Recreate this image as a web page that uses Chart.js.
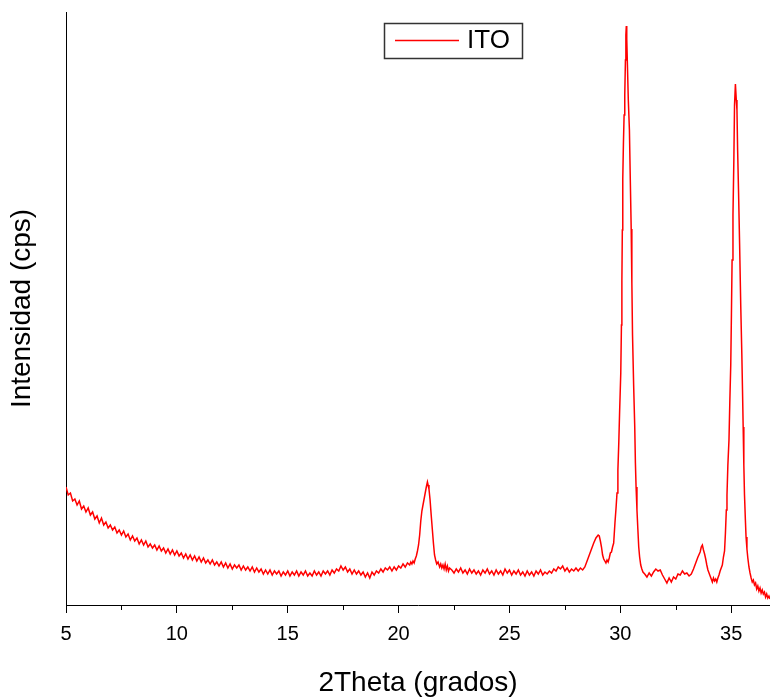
<!DOCTYPE html>
<html lang="es">
<head>
    <meta charset="UTF-8" />
    <title>ITO - difractograma</title>
    <script src="https://cdn.jsdelivr.net/npm/chart.js@4.4.0/dist/chart.umd.min.js"></script>
    <style>
        body { margin: 0; background: white; }
        canvas { display: block; }
    </style>
</head>
<body>
    <canvas id="xrd" width="770" height="700"></canvas>

    <script>
        // datos: [2theta, intensidad (unidades arbitrarias)]
        var scanStart = [
            [5.0,118],[5.1,110],[5.2,112],[5.3,104],[5.4,106],[5.5,100],[5.6,104],[5.7,96],[5.8,99],[5.9,93],
            [6.0,97],[6.1,90],[6.2,93],[6.3,86],[6.4,89],[6.5,82],[6.6,87],[6.7,80],[6.8,83],[6.9,77],
            [7.0,80],[7.1,75],[7.2,78],[7.3,72],[7.4,75],[7.5,70],[7.6,74],[7.7,68],[7.8,71],[7.9,65],
            [8.0,69],[8.1,64],[8.2,67],[8.3,61],[8.4,65],[8.5,60],[8.6,64],[8.7,58],[8.8,61],[8.9,57],
            [9.0,60],[9.1,55],[9.2,59],[9.3,54],[9.4,57],[9.5,52],[9.6,56],[9.7,51],[9.8,55],[9.9,50],
            [10.0,54],[10.1,49],[10.2,52],[10.3,47],[10.4,51],[10.5,46],[10.6,50],[10.7,45],[10.8,49],[10.9,44],
            [11.0,48],[11.1,43],[11.2,47],[11.3,42],[11.4,45],[11.5,41],[11.6,45],[11.7,40],[11.8,43],[11.9,39],
            [12.0,43],[12.1,38],[12.2,42],[12.3,37],[12.4,41],[12.5,36],[12.6,40],[12.7,37],[12.8,40],[12.9,35],
            [13.0,39],[13.1,35],[13.2,38],[13.3,34],[13.4,38],[13.5,33],[13.6,37],[13.7,33],[13.8,36],[13.9,31],
            [14.0,35],[14.1,31],[14.2,35],[14.3,30],[14.4,34],[14.5,31],[14.6,34],[14.7,29],[14.8,33],[14.9,30],
            [15.0,34],[15.1,29],[15.2,33],[15.3,30],[15.4,34],[15.5,29],[15.6,33],[15.7,30],[15.8,34],[15.9,29],
            [16.0,32],[16.1,29],[16.2,34],[16.3,30],[16.4,33],[16.5,29],[16.6,34],[16.7,31],[16.8,34],[16.9,30],
            [17.0,35],[17.1,32],[17.2,36],[17.3,34],[17.4,39],[17.5,35],[17.6,38],[17.7,33],[17.8,36],[17.9,31],
            [18.0,35],[18.1,31],[18.2,34],[18.3,30],[18.4,33],[18.5,28],[18.6,32],[18.7,27],[18.8,33],[18.9,30],
            [19.0,34],[19.1,32],[19.2,36],[19.3,33],[19.4,37],[19.5,35],[19.6,38],[19.7,34],[19.8,38],[19.9,35],
            [20.0,39],[20.1,37],[20.2,41],[20.3,38],[20.4,42],[20.5,40]
        ];
        var peak211 = [
            [20.55,43],[20.6,41],[20.65,44],[20.7,42],[20.75,46],[20.8,49],[20.85,54],[20.9,60],[20.95,70],
            [21.0,84],[21.05,94],[21.1,100],[21.15,106],[21.2,112],[21.25,118],[21.3,123],[21.33,120],[21.37,116],
            [21.42,105],[21.47,90],[21.52,76],[21.57,62],[21.62,50],[21.67,45],[21.72,41],[21.78,43],[21.85,38],
            [21.9,41],[21.95,37],[22.0,40],[22.05,36],[22.1,41],[22.15,35],[22.2,39],[22.25,34],[22.3,37]
        ];
        var midRange = [
            [22.4,35],[22.5,32],[22.6,36],[22.7,33],[22.8,37],[22.9,32],[23.0,35],[23.1,31],[23.2,36],[23.3,32],
            [23.4,35],[23.5,31],[23.6,34],[23.7,30],[23.8,35],[23.9,32],[24.0,36],[24.1,31],[24.2,34],[24.3,30],
            [24.4,35],[24.5,31],[24.6,34],[24.7,30],[24.8,36],[24.9,32],[25.0,35],[25.1,30],[25.2,34],[25.3,31],
            [25.4,35],[25.5,30],[25.6,33],[25.7,29],[25.8,34],[25.9,30],[26.0,33],[26.1,29],[26.2,34],[26.3,31],
            [26.4,35],[26.5,30],[26.6,33],[26.7,31],[26.8,34],[26.9,32],[27.0,36],[27.1,34],[27.2,38],[27.3,36],
            [27.4,39],[27.5,34],[27.6,37],[27.7,33],[27.8,36],[27.9,34],[28.0,37],[28.1,34],[28.2,37],[28.3,35],
            [28.4,38],[28.5,44],[28.6,50],[28.7,56],[28.8,62],[28.9,67],[29.0,70],[29.05,69],[29.1,64],[29.15,58],
            [29.2,50],[29.25,46],[29.3,44],[29.35,42],[29.4,45],[29.45,43],[29.5,47],[29.55,52]
        ];
        var peak222 = [
            [29.6,53],[29.65,58],[29.7,62],[29.76,83],[29.81,98],[29.85,112],[29.89,135],[29.93,162],[29.97,195],
            [30.02,232],[30.05,280],[30.07,324],[30.09,375],[30.11,426],[30.14,462],[30.17,490],[30.2,510],
            [30.23,545],[30.25,570],[30.27,579],[30.29,566],[30.32,540],[30.36,505],[30.41,475],[30.45,425],
            [30.49,376],[30.52,322],[30.55,270],[30.6,220],[30.65,178],[30.68,142],[30.71,118],[30.75,95],
            [30.79,76],[30.83,58],[30.87,48],[30.92,40],[30.97,36],[31.02,33]
        ];
        var between = [
            [31.1,31],[31.2,28],[31.3,32],[31.4,29],[31.5,33],[31.6,36],[31.7,34],[31.8,35],[31.9,30],[32.0,26],
            [32.1,22],[32.2,27],[32.3,23],[32.4,28],[32.5,26],[32.6,31],[32.7,30],[32.8,34],[32.9,31],[33.0,32],
            [33.1,29],[33.2,31],[33.3,36],[33.4,42],[33.5,48],[33.6,53],[33.65,58],[33.7,60],[33.75,55],[33.8,51],
            [33.85,46],[33.9,40],[33.95,35],[34.0,32],[34.05,29],[34.1,26],[34.15,23],[34.2,27],[34.25,24],
            [34.3,26],[34.35,23],[34.4,27],[34.45,30],[34.5,34],[34.55,37],[34.6,40]
        ];
        var peak400 = [
            [34.65,48],[34.7,54],[34.74,72],[34.78,95],[34.81,110],[34.85,140],[34.9,165],[34.94,205],[34.98,240],
            [35.01,290],[35.04,345],[35.08,390],[35.12,445],[35.15,500],[35.19,521],[35.23,505],[35.26,495],
            [35.29,455],[35.33,415],[35.38,360],[35.43,300],[35.48,250],[35.51,215],[35.54,178],[35.57,140],
            [35.6,110],[35.64,85],[35.67,68],[35.71,56],[35.75,47]
        ];
        var scanEnd = [
            [35.8,38],[35.85,32],[35.9,27],[35.95,23],[36.0,25],[36.05,20],[36.1,22],[36.15,16],[36.2,19],
            [36.25,14],[36.3,17],[36.35,12],[36.4,15],[36.45,11],[36.5,13],[36.55,8],[36.6,11],[36.65,7],
            [36.7,9],[36.75,6]
        ];

        var xMin = 5;
        var xMax = 36.75;
        var yMax = 593;
        var majorTicks = [5, 10, 15, 20, 25, 30, 35];
        var minorTicks = [7.5, 12.5, 17.5, 22.5, 27.5, 32.5];

        var FONT = "'Liberation Sans', Arial, sans-serif";

        var points = scanStart.concat(peak211, midRange, peak222, between, peak400, scanEnd)
            .map(function (p) { return { x: p[0], y: p[1] }; });

        // ticks menores del eje x (cortos, sin etiqueta)
        var minorTickPlugin = {
            id: 'minorTicks',
            afterDraw: function (chart) {
                var ctx = chart.ctx;
                var xs = chart.scales.x;
                ctx.save();
                ctx.strokeStyle = '#000';
                ctx.lineWidth = 1;
                minorTicks.forEach(function (v) {
                    var px = Math.round(xs.getPixelForValue(v)) + 0.5;
                    ctx.beginPath();
                    ctx.moveTo(px, xs.top);
                    ctx.lineTo(px, xs.top + 5);
                    ctx.stroke();
                });
                ctx.restore();
            }
        };

        // leyenda con recuadro, como en Origin
        var boxLegendPlugin = {
            id: 'boxLegend',
            afterDraw: function (chart) {
                var ctx = chart.ctx;
                var ds = chart.data.datasets[0];
                ctx.save();
                ctx.strokeStyle = '#333';
                ctx.lineWidth = 1.5;
                ctx.strokeRect(384.5, 23.5, 138, 35);
                ctx.strokeStyle = ds.borderColor;
                ctx.lineWidth = 1.3;
                ctx.beginPath();
                ctx.moveTo(395, 40.5);
                ctx.lineTo(459, 40.5);
                ctx.stroke();
                ctx.fillStyle = '#000';
                ctx.font = '26px ' + FONT;
                ctx.textBaseline = 'middle';
                ctx.fillText(ds.label, 467, 41);
                ctx.restore();
            }
        };

        var config = {
            type: 'line',
            data: {
                datasets: [{
                    label: 'ITO',
                    data: points,
                    borderColor: '#ff0000',
                    borderWidth: 1.5,
                    pointRadius: 0,
                    tension: 0,
                    fill: false
                }]
            },
            options: {
                responsive: false,
                devicePixelRatio: 1,
                animation: false,
                layout: { padding: { top: 12, right: 0, left: 0, bottom: 0 } },
                plugins: {
                    legend: { display: false },
                    tooltip: { enabled: false }
                },
                scales: {
                    x: {
                        type: 'linear',
                        min: xMin,
                        max: xMax,
                        afterBuildTicks: function (scale) {
                            scale.ticks = majorTicks.map(function (v) { return { value: v }; });
                        },
                        afterFit: function (scale) { scale.height = 95; },
                        ticks: {
                            color: '#000',
                            font: { family: FONT, size: 20 },
                            padding: 9,
                            maxRotation: 0,
                            autoSkip: false
                        },
                        grid: {
                            drawOnChartArea: false,
                            drawTicks: true,
                            tickLength: 8,
                            tickColor: '#000',
                            tickWidth: 1
                        },
                        border: { display: true, color: '#000', width: 1 },
                        title: {
                            display: true,
                            text: '2Theta (grados)',
                            color: '#000',
                            font: { family: FONT, size: 28 },
                            padding: { top: 0, bottom: 0 }
                        }
                    },
                    y: {
                        min: 0,
                        max: yMax,
                        afterFit: function (scale) { scale.width = 66; },
                        ticks: { display: false },
                        grid: { display: false },
                        border: { display: true, color: '#000', width: 1 },
                        title: {
                            display: true,
                            text: 'Intensidad (cps)',
                            color: '#000',
                            font: { family: FONT, size: 28 },
                            padding: { top: 5, bottom: 0 }
                        }
                    }
                }
            },
            plugins: [minorTickPlugin, boxLegendPlugin]
        };

        var chart = new Chart(document.getElementById('xrd'), config);
    </script>
</body>
</html>
